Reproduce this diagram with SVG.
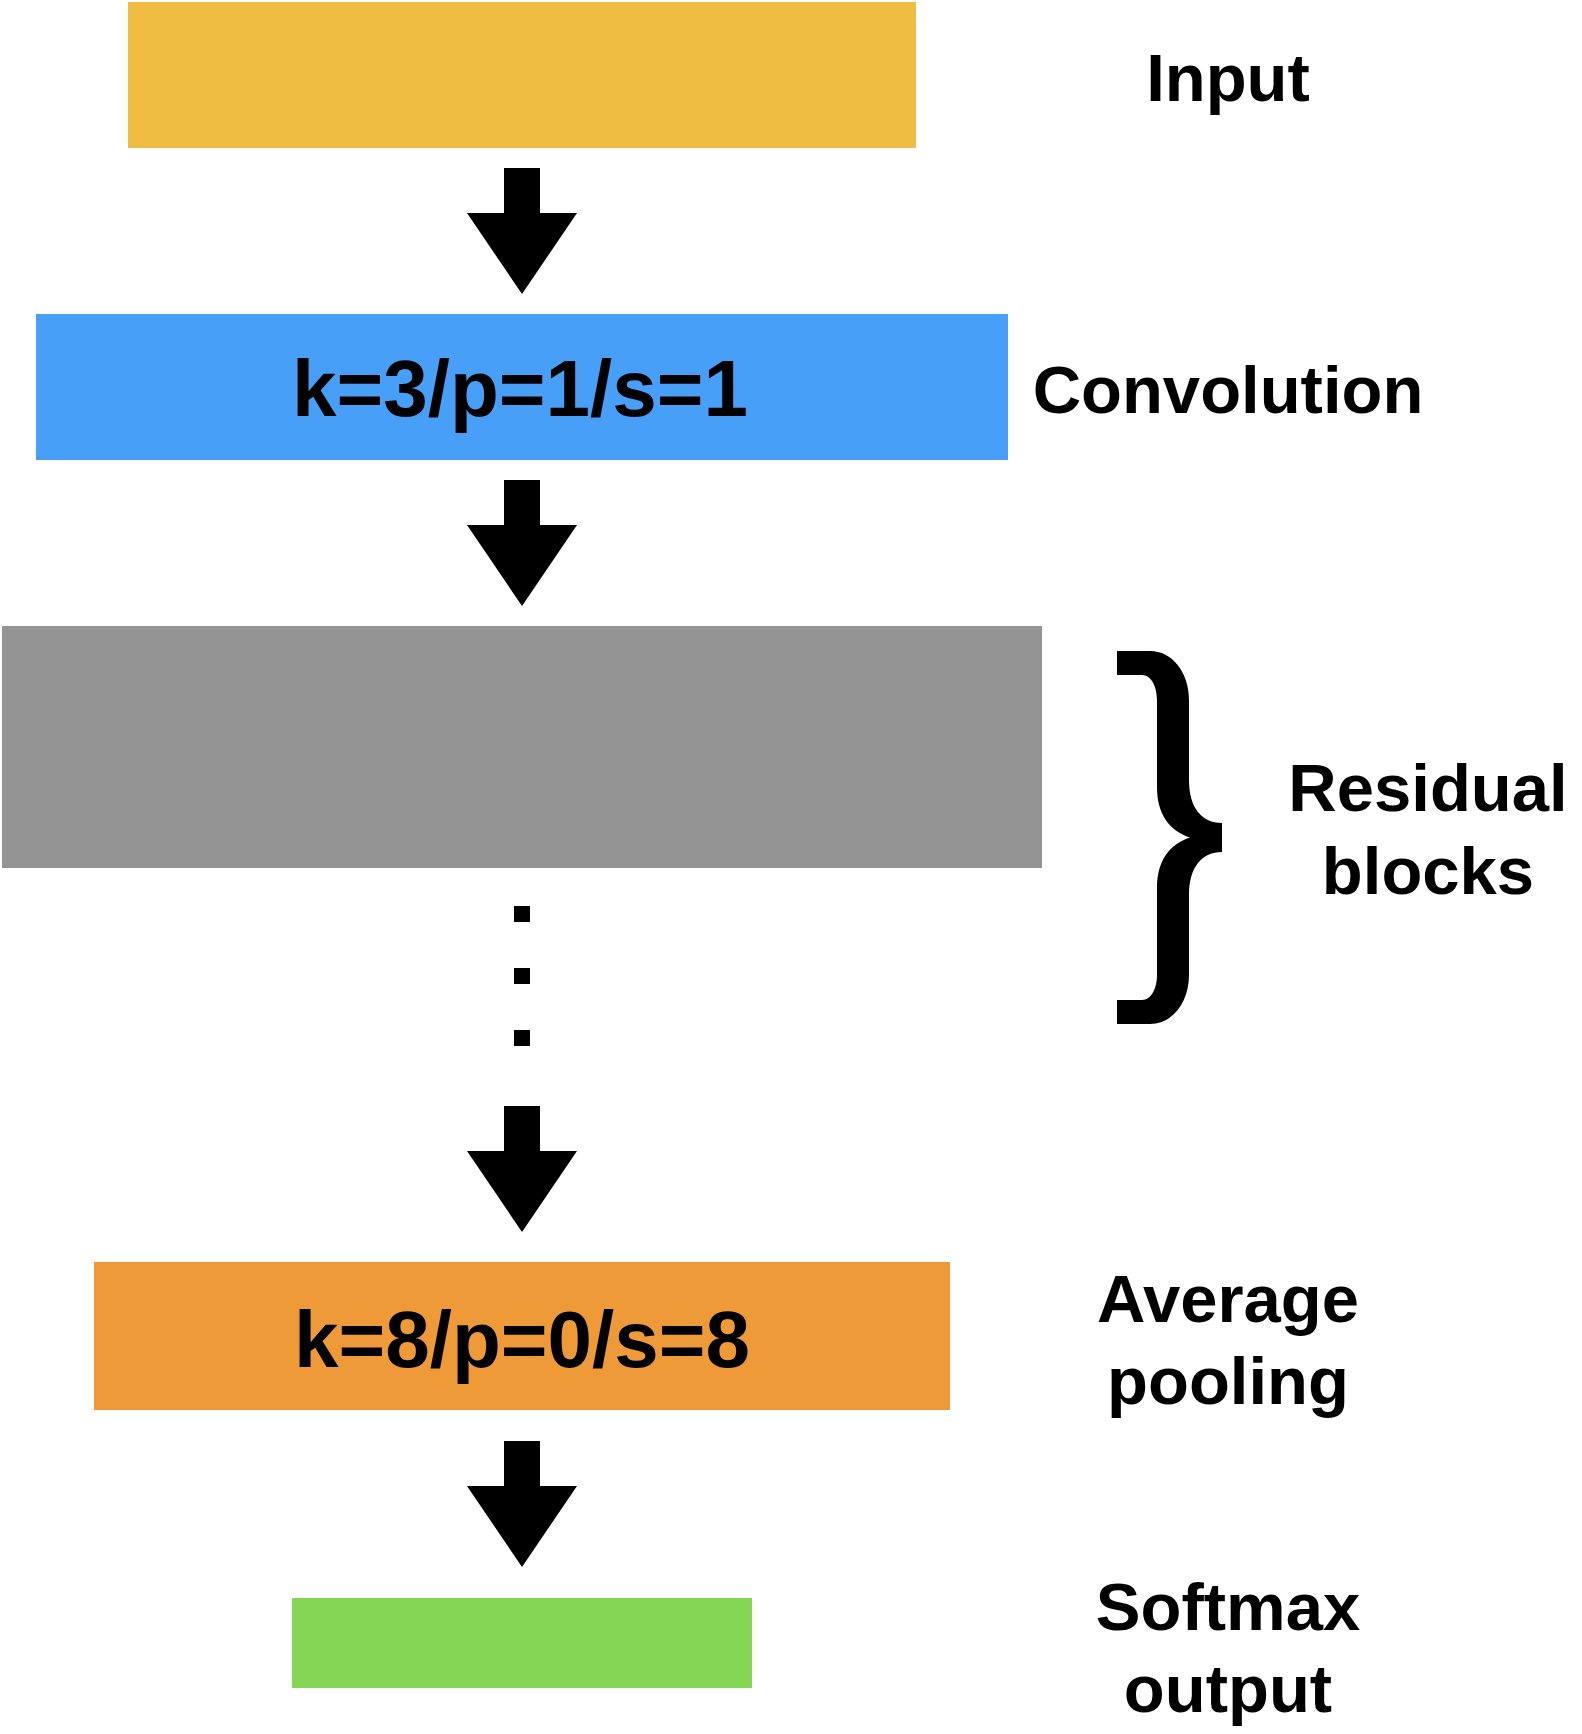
<svg xmlns="http://www.w3.org/2000/svg" xmlns:xlink="http://www.w3.org/1999/xlink" width="1582" height="1734" viewBox="0 0 1582 1734">
<style>
.lbl{font-family:"Liberation Sans",Arial,Helvetica,sans-serif;font-weight:bold;font-size:67px;fill:#000;text-anchor:middle}
.inner{font-family:"Liberation Sans",Arial,Helvetica,sans-serif;font-weight:bold;font-size:80px;fill:#000;text-anchor:middle}
</style>
<defs>
<path id="arrow" d="M-18,0 H18 V45 H55 L0,126 L-55,45 H-18 Z" fill="#000"/>
</defs>
<rect width="1582" height="1734" fill="#fff"/>
<g id="input">
<rect x="128" y="2" width="788" height="146" fill="#EEBD42"/>
<text class="lbl" x="1228" y="101">Input</text>
</g>
<g id="convolution">
<rect x="36" y="314" width="972" height="146" fill="#489FF7"/>
<text class="inner" x="520" y="416">k=3/p=1/s=1</text>
<text class="lbl" x="1228" y="413">Convolution</text>
</g>
<g id="residual">
<rect x="2" y="626" width="1040" height="242" fill="#949494"/>
<rect x="514" y="906" width="16" height="16" fill="#000"/>
<rect x="514" y="968" width="16" height="16" fill="#000"/>
<rect x="514" y="1030" width="16" height="16" fill="#000"/>
<path d="M1117,651 H1150 C1172,651 1189,672 1189,700 V780 C1189,808 1202,823 1222,823 V852 C1202,852 1189,867 1189,895 V975 C1189,1003 1172,1024 1150,1024 H1117 V1000 H1142 C1151,1000 1157,989 1157,975 V888 C1157,860 1170,844 1190,837.5 C1170,831 1157,815 1157,787 V700 C1157,686 1151,675 1142,675 H1117 Z" fill="#000"/>
<text class="lbl" x="1428" y="811">Residual</text>
<text class="lbl" x="1428" y="894">blocks</text>
</g>
<g id="avgpool">
<rect x="94" y="1262" width="856" height="148" fill="#EF9A38"/>
<text class="inner" x="522" y="1367">k=8/p=0/s=8</text>
<text class="lbl" x="1228" y="1322">Average</text>
<text class="lbl" x="1228" y="1404">pooling</text>
</g>
<g id="softmax">
<rect x="292" y="1598" width="460" height="90" fill="#85D655"/>
<text class="lbl" x="1228" y="1630">Softmax</text>
<text class="lbl" x="1228" y="1712">output</text>
</g>
<g id="connectors">
<use xlink:href="#arrow" x="522" y="168"/>
<use xlink:href="#arrow" x="522" y="480"/>
<use xlink:href="#arrow" x="522" y="1106"/>
<use xlink:href="#arrow" x="522" y="1441"/>
</g>
</svg>
